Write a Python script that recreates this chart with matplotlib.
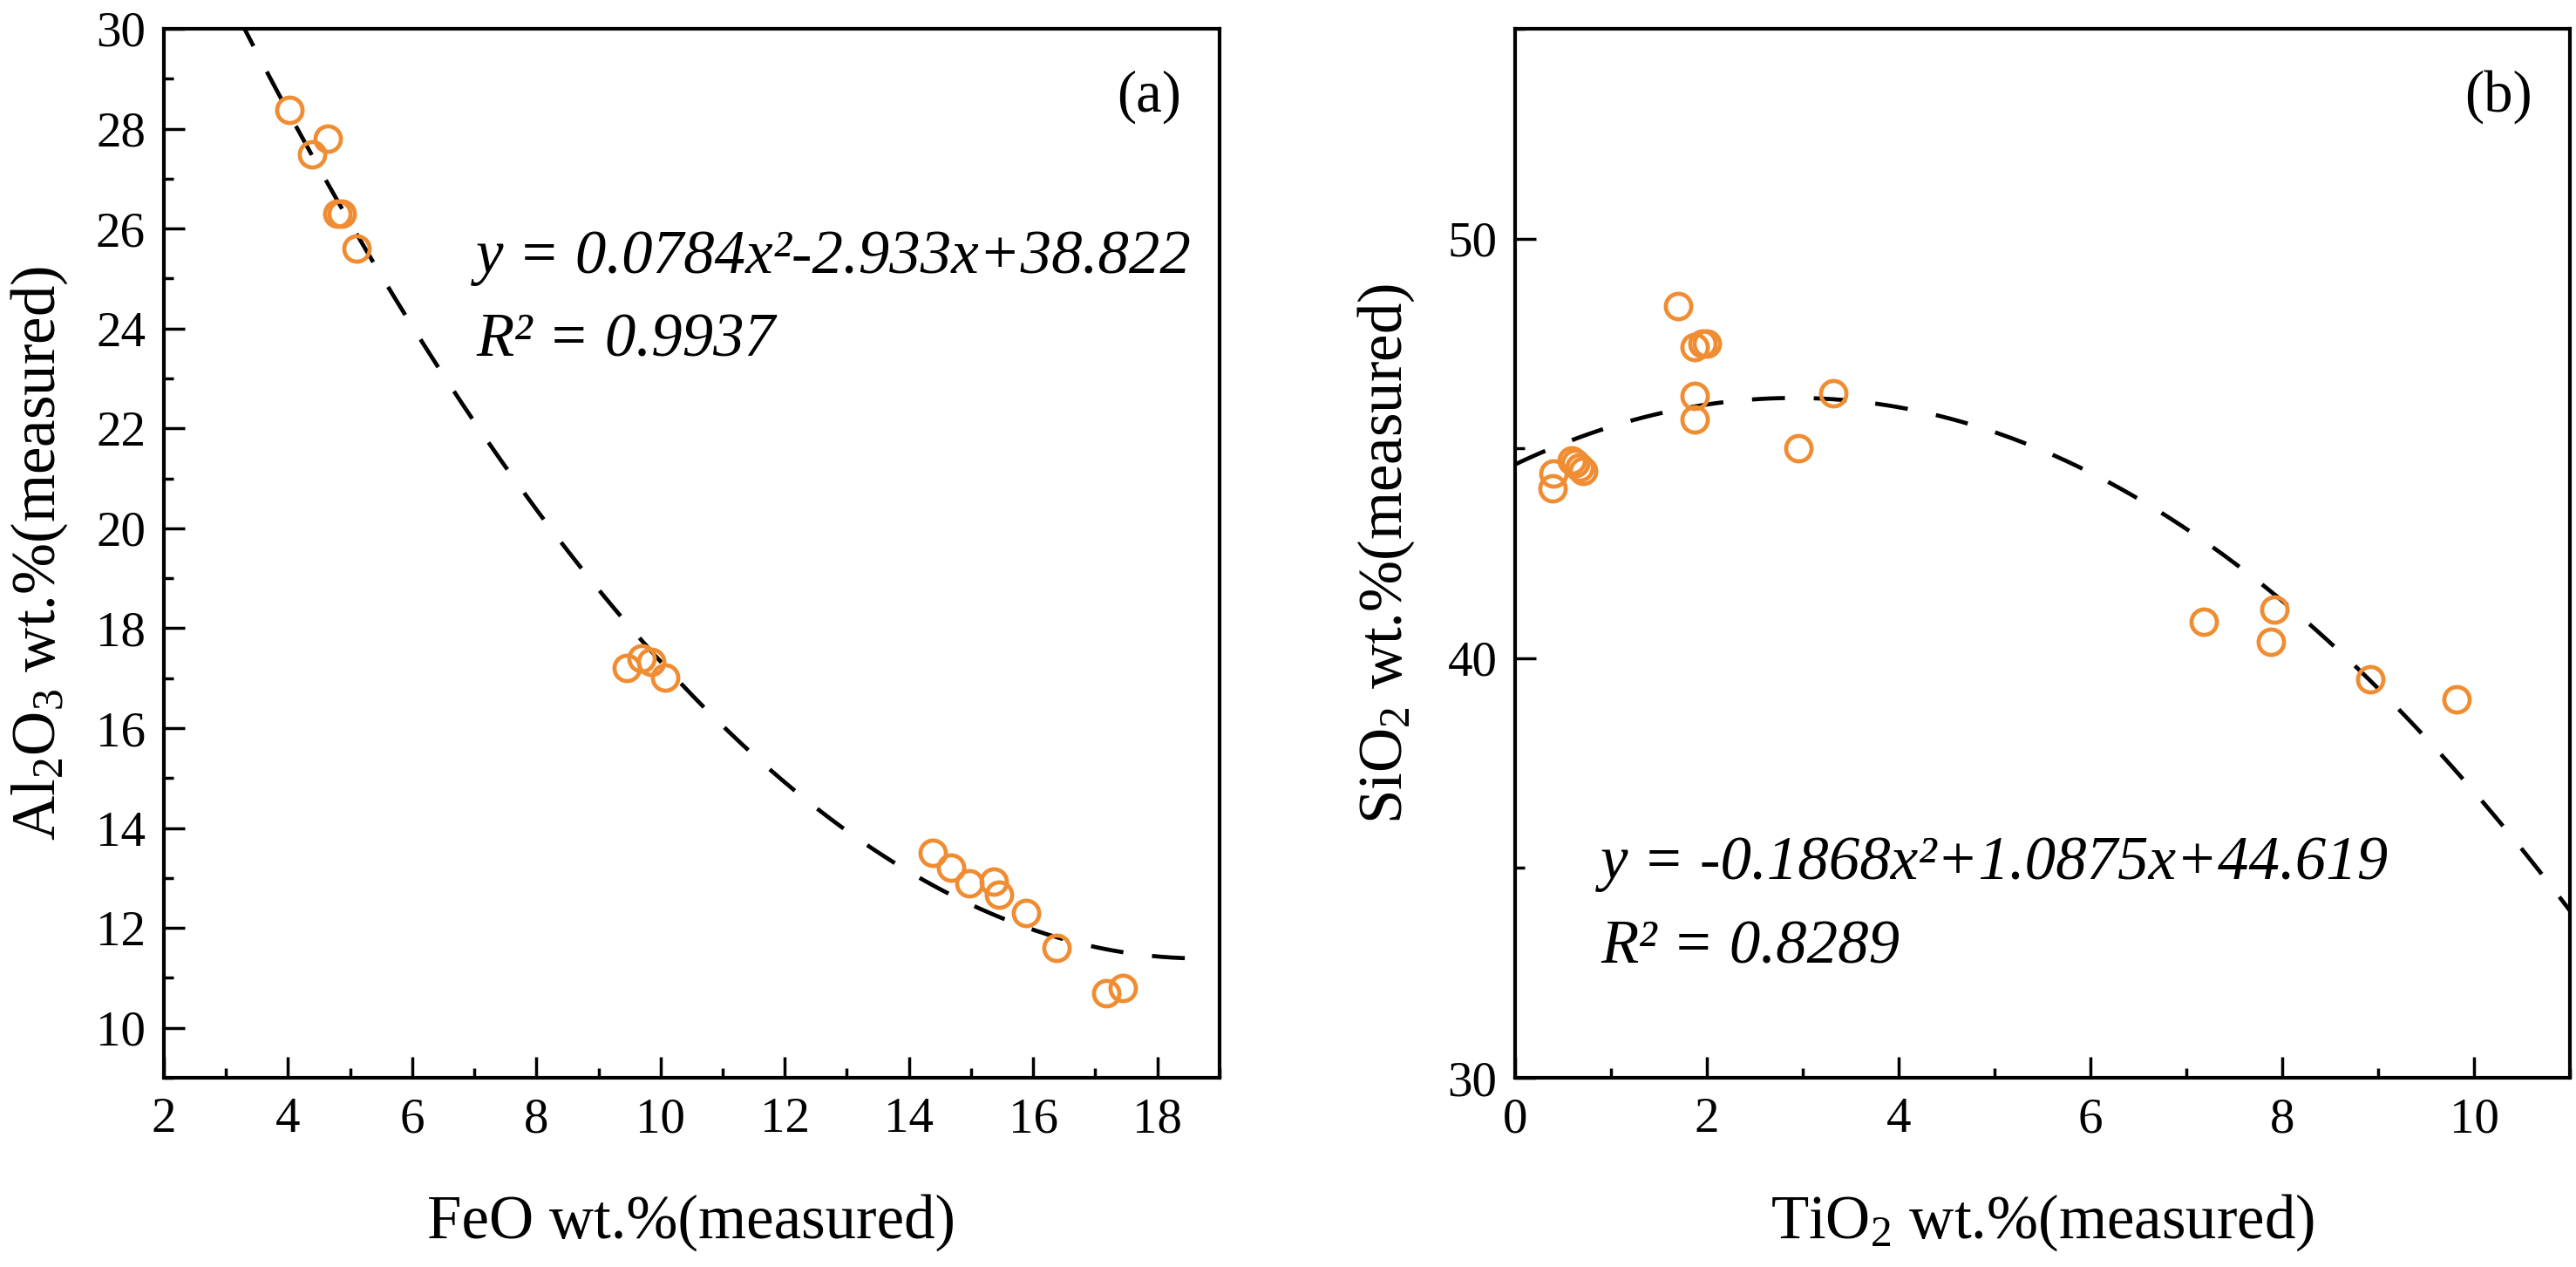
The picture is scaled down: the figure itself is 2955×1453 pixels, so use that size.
import numpy as np
import matplotlib.pyplot as plt
from matplotlib.ticker import MultipleLocator

# (a) FeO vs Al2O3, measured wt.%
feo = [4.02, 4.64, 4.39, 4.80, 4.86, 5.11, 9.45, 9.70, 9.85, 10.07,
       14.38, 14.68, 14.97, 15.36, 15.45, 15.88, 16.38, 17.17, 17.45]
al2o3 = [28.38, 27.80, 27.48, 26.30, 26.30, 25.60, 17.20, 17.40, 17.32, 17.02,
         13.50, 13.20, 12.90, 12.92, 12.66, 12.30, 11.60, 10.70, 10.80]
fit_a = [0.0784, -2.933, 38.822]
fit_a_range = [3.2, 18.6]

# (b) TiO2 vs SiO2, measured wt.%
tio2 = [0.39, 0.40, 0.59, 0.63, 0.67, 0.71, 1.70, 1.87, 1.95, 2.00,
        1.87, 1.87, 2.95, 3.32, 7.18, 7.88, 7.92, 8.92, 9.82]
sio2 = [44.05, 44.40, 44.72, 44.65, 44.55, 44.47, 48.40, 47.42, 47.50, 47.50,
        46.25, 45.70, 45.00, 46.32, 40.87, 40.40, 41.17, 39.50, 39.02]
fit_b = [-0.1868, 1.0875, 44.619]
fit_b_range = [0.0, 11.0]

eq_a = ['y = 0.0784x\u00b2-2.933x+38.822', 'R\u00b2 = 0.9937']
eq_b = ['y = -0.1868x\u00b2+1.0875x+44.619', 'R\u00b2 = 0.8289']

plt.rcParams['font.family'] = ['Liberation Serif', 'DejaVu Serif']
plt.rcParams['mathtext.fontset'] = 'custom'
plt.rcParams['mathtext.rm'] = 'Liberation Serif'
plt.rcParams['mathtext.it'] = 'Liberation Serif:italic'

orange = '#F08C32'


def style_axes(ax, xpad, ypad):
    for s in ax.spines.values():
        s.set_linewidth(3)
    ax.tick_params(which='both', direction='in', top=False, right=False,
                   width=2.5, labelsize=41)
    ax.tick_params(which='major', length=17)
    ax.tick_params(which='minor', length=8)
    ax.tick_params(axis='x', which='major', pad=xpad)
    ax.tick_params(axis='y', which='major', pad=ypad)


def draw_panel(ax, x, y, coef, xr, eq, eq_pos, tag):
    xx = np.linspace(xr[0], xr[1], 300)
    ax.plot(xx, np.polyval(coef, xx), color='black', lw=3.4,
            dashes=(8, 7), zorder=2)
    ax.plot(x, y, 'o', ms=21, mfc='none', mec=orange, mew=3.4, zorder=3)
    ax.text(eq_pos[0], eq_pos[1], eq[0], transform=ax.transAxes,
            fontsize=51, style='italic', va='baseline')
    ax.text(eq_pos[0], eq_pos[2], eq[1], transform=ax.transAxes,
            fontsize=51, style='italic', va='baseline')
    ax.text(0.964, 0.921, tag, transform=ax.transAxes, fontsize=48,
            ha='right', va='baseline')


fig = plt.figure(figsize=(29.55, 14.53), dpi=100)
ax1 = fig.add_axes([0.0636, 0.1493, 0.4098, 0.828])
ax2 = fig.add_axes([0.5882, 0.1493, 0.4095, 0.828])

draw_panel(ax1, feo, al2o3, fit_a, fit_a_range, eq_a, (0.296, 0.767, 0.688), '(a)')
ax1.set_xlim(2, 19)
ax1.set_ylim(9, 30)
ax1.xaxis.set_major_locator(MultipleLocator(2))
ax1.xaxis.set_minor_locator(MultipleLocator(1))
ax1.set_yticks(np.arange(10, 31, 2))
ax1.yaxis.set_minor_locator(MultipleLocator(1))
style_axes(ax1, 16, 15)
ax1.set_xlabel('FeO wt.%(measured)', fontsize=51)
ax1.set_ylabel(r'Al$\mathregular{_2}$O$\mathregular{_3}$ wt.%(measured)', fontsize=51)

draw_panel(ax2, tio2, sio2, fit_b, fit_b_range, eq_b, (0.081, 0.1895, 0.109), '(b)')
ax2.set_xlim(0, 11)
ax2.set_ylim(30, 55)
ax2.set_xticks(np.arange(0, 11, 2))
ax2.xaxis.set_minor_locator(MultipleLocator(1))
ax2.set_yticks([30, 40, 50])
ax2.yaxis.set_minor_locator(MultipleLocator(5))
style_axes(ax2, 16, 15)
ax2.set_xlabel(r'TiO$\mathregular{_2}$ wt.%(measured)', fontsize=51)
ax2.set_ylabel(r'SiO$\mathregular{_2}$ wt.%(measured)', fontsize=51)

for ax, ylx in ((ax1, -0.118), (ax2, -0.1223)):
    ax.xaxis.set_label_coords(0.5, -0.153)
    ax.xaxis.label.set_va('baseline')
    ax.yaxis.set_label_coords(ylx, 0.5)
    ax.yaxis.label.set_va('center')

fig.savefig('out.png', dpi=100)
